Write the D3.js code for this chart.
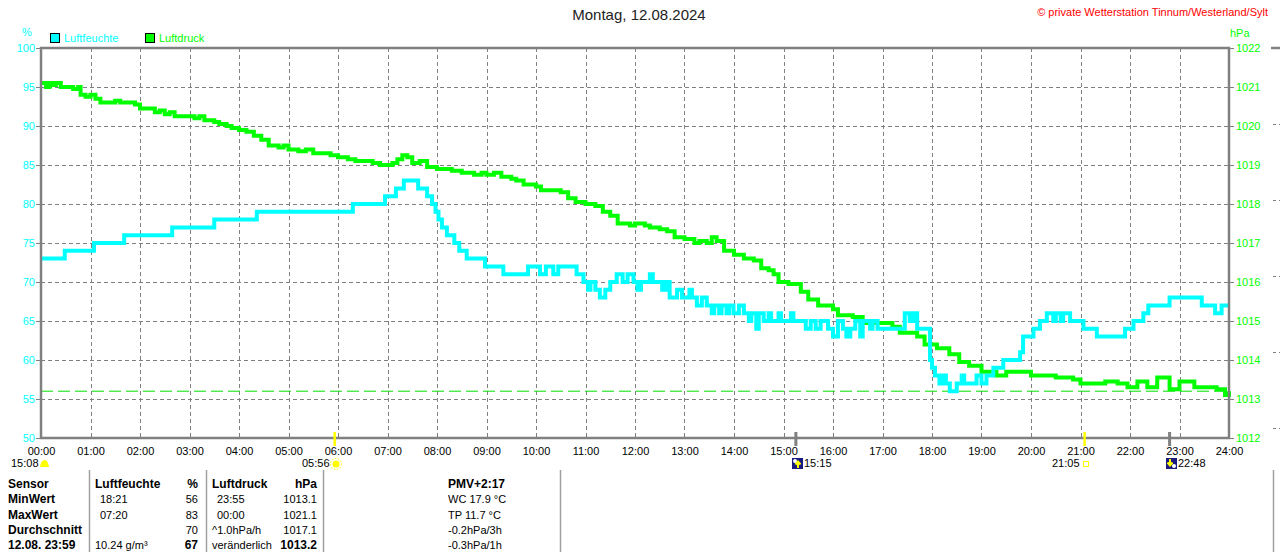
<!DOCTYPE html>
<meta charset="utf-8">
<script src="https://d3js.org/d3.v7.min.js"></script>
<style>
  body { margin: 0; background: #fff; }
  svg text { font-family: 'Liberation Sans', Arial, sans-serif; }
</style>
<body>
<div id="chart"></div>
<script>

// humidity (%) - stepped readings, hours of day
var humHours = [0, 0.48, 1.07, 1.68, 2.65, 3.5, 4.36, 6.3, 6.95, 7.17, 7.33, 7.62, 7.8, 7.9, 7.97, 8.03, 8.1, 8.2, 8.35, 8.45,
  8.6, 8.97, 9.34, 9.84, 10.08, 10.2, 10.35, 10.45, 10.82, 10.96, 11.05, 11.1, 11.2, 11.29, 11.4, 11.5, 11.63, 11.75, 11.85, 11.97,
  12.05, 12.12, 12.3, 12.36, 12.55, 12.62, 12.7, 12.85, 12.95, 13.1, 13.15, 13.25, 13.35, 13.45, 13.55, 13.6, 13.7, 13.75, 13.85, 13.9,
  13.99, 14.1, 14.2, 14.3, 14.35, 14.45, 14.5, 14.6, 14.7, 14.75, 14.9, 14.95, 15.15, 15.2, 15.45, 15.55, 15.65, 15.75, 15.9, 16.0,
  16.1, 16.2, 16.27, 16.35, 16.45, 16.55, 16.6, 16.75, 16.8, 16.9, 17.0, 17.45, 17.55, 17.62, 17.7, 17.96, 18.0, 18.06, 18.15, 18.2,
  18.28, 18.36, 18.5, 18.6, 18.65, 18.9, 19.0, 19.1, 19.24, 19.44, 19.78, 19.84, 20.05, 20.18, 20.32, 20.45, 20.5, 20.6, 20.65, 20.79,
  21.06, 21.33, 21.9, 22.07, 22.27, 22.37, 22.8, 23.45, 23.72, 23.85, 24.0];
var humValues = [73, 74, 75, 76, 77, 78, 79, 80, 81, 82, 83, 82, 81, 80, 79, 78, 77, 76, 75, 74,
  73, 72, 71, 72, 71, 72, 71, 72, 71, 70, 69, 70, 69, 68, 69, 70, 71, 70, 71, 70,
  69, 70, 71, 70, 69, 70, 68, 69, 68, 69, 68, 67, 68, 67, 66, 67, 66, 67, 66, 67,
  66, 67, 66, 65, 66, 64, 66, 65, 66, 65, 66, 65, 66, 65, 64, 65, 64, 65, 64, 63,
  65, 64, 63, 64, 65, 63, 65, 64, 65, 64, 64, 66, 65, 66, 64, 60, 59, 58, 57, 58,
  57, 56, 57, 58, 57, 58, 57, 58, 59, 60, 61, 63, 64, 65, 66, 65, 66, 65, 66, 65,
  64, 63, 64, 65, 66, 67, 68, 67, 66, 67, 67];

// air pressure (hPa)
var pressHours = [0, 0.1, 0.17, 0.25, 0.3, 0.4, 0.55, 0.65, 0.75, 0.8, 0.9, 1.0, 1.1, 1.2, 1.35, 1.5, 1.6, 1.8, 1.9, 2.0,
  2.25, 2.3, 2.4, 2.5, 2.6, 2.7, 3.0, 3.1, 3.2, 3.3, 3.5, 3.6, 3.75, 3.85, 4.0, 4.15, 4.3, 4.45, 4.6, 4.8,
  4.9, 5.0, 5.2, 5.35, 5.5, 5.7, 5.85, 6.0, 6.2, 6.35, 6.5, 6.7, 6.85, 7.1, 7.2, 7.3, 7.4, 7.5, 7.65, 7.8,
  8.0, 8.3, 8.5, 8.75, 8.9, 9.0, 9.15, 9.3, 9.5, 9.6, 9.75, 10.0, 10.1, 10.3, 10.5, 10.65, 10.8, 11.0, 11.2, 11.35,
  11.5, 11.65, 11.9, 12.0, 12.2, 12.3, 12.5, 12.65, 12.8, 13.0, 13.2, 13.3, 13.45, 13.55, 13.65, 13.8, 14.0, 14.2, 14.4, 14.55,
  14.7, 14.8, 14.9, 15.1, 15.2, 15.35, 15.5, 15.7, 16.0, 16.1, 16.4, 16.6, 16.9, 17.2, 17.35, 17.7, 17.85, 18.1, 18.35, 18.55,
  18.75, 19.0, 19.3, 19.5, 19.85, 20.0, 20.5, 20.85, 21.0, 21.2, 21.5, 21.75, 21.95, 22.15, 22.35, 22.55, 22.8, 23.0, 23.3, 23.55,
  23.75, 23.92, 24.0];
var pressValues = [1021.1, 1021.0, 1021.1, 1021.05, 1021.1, 1021.0, 1021.0, 1020.95, 1021.0, 1020.8, 1020.75, 1020.8, 1020.7, 1020.6, 1020.6, 1020.65, 1020.6, 1020.6, 1020.55, 1020.45,
  1020.45, 1020.35, 1020.4, 1020.3, 1020.35, 1020.25, 1020.25, 1020.2, 1020.25, 1020.15, 1020.1, 1020.05, 1020.0, 1019.95, 1019.9, 1019.85, 1019.75, 1019.65, 1019.5, 1019.45,
  1019.5, 1019.4, 1019.35, 1019.4, 1019.3, 1019.3, 1019.25, 1019.2, 1019.15, 1019.1, 1019.1, 1019.05, 1019.0, 1019.05, 1019.15, 1019.25, 1019.2, 1019.05, 1019.1, 1018.95,
  1018.9, 1018.85, 1018.8, 1018.75, 1018.8, 1018.75, 1018.8, 1018.7, 1018.65, 1018.6, 1018.5, 1018.45, 1018.35, 1018.35, 1018.3, 1018.15, 1018.05, 1018.0, 1017.95, 1017.8,
  1017.7, 1017.5, 1017.45, 1017.5, 1017.45, 1017.4, 1017.35, 1017.3, 1017.15, 1017.1, 1017.0, 1017.05, 1017.0, 1017.15, 1017.05, 1016.8, 1016.7, 1016.6, 1016.55, 1016.35,
  1016.3, 1016.2, 1016.0, 1015.95, 1015.95, 1015.75, 1015.55, 1015.4, 1015.3, 1015.15, 1015.1, 1014.95, 1014.95, 1014.85, 1014.7, 1014.6, 1014.4, 1014.3, 1014.15, 1013.95,
  1013.85, 1013.7, 1013.6, 1013.7, 1013.7, 1013.6, 1013.55, 1013.5, 1013.4, 1013.4, 1013.45, 1013.4, 1013.3, 1013.45, 1013.3, 1013.55, 1013.25, 1013.45, 1013.3, 1013.3,
  1013.25, 1013.1, 1013.2];

var humTicks = [50, 55, 60, 65, 70, 75, 80, 85, 90, 95, 100];
var pressTicks = [1012, 1013, 1014, 1015, 1016, 1017, 1018, 1019, 1020, 1021, 1022];
var hourTicks = d3.range(0, 25);
var currentPress = 1013.2;

// sun / moon events under the axis
var eventLabels = ["15:08", "05:56", "15:15", "21:05", "22:48"];
var markerHours = [5 + 56 / 60, 15 + 15 / 60, 21 + 5 / 60, 22 + 48 / 60];
var markerColors = ["#ffff00", "#808080", "#ffff00", "#808080"];

// table
var tableRows = [
  ["Sensor", "Luftfeuchte", "%", "Luftdruck", "hPa", "PMV+2:17"],
  ["MinWert", "  18:21", "56", "  23:55", "1013.1", "WC 17.9 °C"],
  ["MaxWert", "  07:20", "83", "  00:00", "1021.1", "TP 11.7 °C"],
  ["Durchschnitt", "", "70", "^1.0hPa/h", "1017.1", "-0.2hPa/3h"],
  ["12.08. 23:59", "10.24 g/m³", "67", "veränderlich", "1013.2", "-0.3hPa/1h"]
];

var W = 1280, H = 552;
var svg = d3.select("#chart").append("svg").attr("width", W).attr("height", H);

var x = d3.scaleLinear().domain([0, 24]).range([41, 1229]);
var yH = d3.scaleLinear().domain([50, 100]).range([438, 48]);
var yP = d3.scaleLinear().domain([1012, 1022]).range([438, 48]);

// title + copyright
svg.append("text").attr("x", 639).attr("y", 20).attr("text-anchor", "middle")
  .style("font-size", "15px").style("fill", "#222").text("Montag, 12.08.2024");
svg.append("text").attr("x", 1268).attr("y", 16).attr("text-anchor", "end")
  .style("font-size", "11px").style("fill", "#ff0000").text("© private Wetterstation Tinnum/Westerland/Sylt");

// units + legend
svg.append("text").attr("x", 22).attr("y", 36).style("font-size", "11px").style("fill", "#00ffff").text("%");
svg.append("text").attr("x", 1230).attr("y", 37).style("font-size", "11px").style("fill", "#00ff00").text("hPa");
svg.append("rect").attr("x", 50.5).attr("y", 33.5).attr("width", 9).attr("height", 9).style("fill", "#00ffff").style("stroke", "#000");
svg.append("text").attr("x", 64).attr("y", 42).style("font-size", "11px").style("fill", "#00ffff").text("Luftfeuchte");
svg.append("rect").attr("x", 145.5).attr("y", 33.5).attr("width", 9).attr("height", 9).style("fill", "#00ff00").style("stroke", "#000");
svg.append("text").attr("x", 159).attr("y", 42).style("font-size", "11px").style("fill", "#00ff00").text("Luftdruck");

// grid
var grid = svg.append("g").attr("class", "grid");
grid.selectAll("line.v").data(hourTicks.slice(1, 24)).enter().append("line")
  .attr("x1", d => Math.round(x(d)) + 0.5).attr("x2", d => Math.round(x(d)) + 0.5)
  .attr("y1", 48).attr("y2", 438);
grid.selectAll("line.h").data(humTicks.slice(1, 10)).enter().append("line")
  .attr("x1", 41).attr("x2", 1229)
  .attr("y1", d => Math.round(yH(d)) + 0.5).attr("y2", d => Math.round(yH(d)) + 0.5);
grid.selectAll("line").style("stroke", "#808080").style("stroke-dasharray", "4,3").style("stroke-width", 1);

// current pressure reference
svg.append("line").attr("x1", 41).attr("x2", 1229)
  .attr("y1", yP(currentPress)).attr("y2", yP(currentPress))
  .style("stroke", "#00e000").style("stroke-width", 1).style("stroke-dasharray", "12,5");

// axes
var xAxis = svg.append("g").attr("transform", "translate(0,438)")
  .call(d3.axisBottom(x).tickValues(hourTicks).tickSize(0).tickPadding(9)
    .tickFormat(d => (d < 10 ? "0" : "") + d + ":00"));
xAxis.select(".domain").remove();
xAxis.selectAll("text").style("font-size", "11px").style("fill", "#000").style("font-family", "'Liberation Sans', Arial, sans-serif");

var yAxisL = svg.append("g").attr("transform", "translate(41,0)")
  .call(d3.axisLeft(yH).tickValues(humTicks).tickSize(5).tickPadding(1).tickFormat(d3.format("d")));
yAxisL.select(".domain").remove();
yAxisL.selectAll("line").style("stroke", "#808080");
yAxisL.selectAll("text").style("font-size", "11px").style("fill", "#00ffff").style("font-family", "'Liberation Sans', Arial, sans-serif");

var yAxisR = svg.append("g").attr("transform", "translate(1229,0)")
  .call(d3.axisRight(yP).tickValues(pressTicks).tickSize(5).tickPadding(2).tickFormat(d3.format("d")));
yAxisR.select(".domain").remove();
yAxisR.selectAll("line").style("stroke", "#808080");
yAxisR.selectAll("text").style("font-size", "11px").style("fill", "#00ff00").style("font-family", "'Liberation Sans', Arial, sans-serif");

// lines
var pressData = pressHours.map((h, i) => ({ h: h, v: pressValues[i] }));
var humData = humHours.map((h, i) => ({ h: h, v: humValues[i] }));

svg.append("path").datum(pressData)
  .attr("d", d3.line().curve(d3.curveStepAfter).x(d => x(d.h)).y(d => yP(d.v)))
  .style("fill", "none").style("stroke", "#00ff00").style("stroke-width", 4);

svg.append("path").datum(humData)
  .attr("d", d3.line().curve(d3.curveStepAfter).x(d => x(d.h)).y(d => yH(d.v)))
  .style("fill", "none").style("stroke", "#00ffff").style("stroke-width", 4);

// frame
svg.append("path").attr("d", "M41,48V438H1229V48H41Z")
  .style("fill", "none").style("stroke", "#808080").style("stroke-width", 2.5);

// neighbouring panel edge
svg.append("line").attr("x1", 1271).attr("x2", 1280).attr("y1", 48).attr("y2", 48)
  .style("stroke", "#808080").style("stroke-width", 2.5);
svg.selectAll("line.edge").data([124, 200, 276, 352, 428]).enter().append("line")
  .attr("x1", 1273).attr("x2", 1280).attr("y1", d => d + 0.5).attr("y2", d => d + 0.5)
  .style("stroke", "#808080").style("stroke-dasharray", "3,3");

// sun / moon markers on axis
svg.selectAll("line.mark").data(markerHours).enter().append("line")
  .attr("x1", d => x(d)).attr("x2", d => x(d)).attr("y1", 432).attr("y2", 446)
  .style("stroke", (d, i) => markerColors[i]).style("stroke-width", (d, i) => i % 2 ? 3 : 2.5);

var ev = svg.append("g").style("font-size", "11px");
ev.append("text").attr("x", 11).attr("y", 467).text(eventLabels[0]);
ev.append("path").attr("d", "M40,467 Q41,460 44.5,460 Q48,460 49,467 Z").style("fill", "#ffff00");

ev.append("text").attr("x", 302).attr("y", 467).text(eventLabels[1]);
ev.append("circle").attr("cx", 336).attr("cy", 464).attr("r", 3.5).style("fill", "#ffff00");
ev.append("circle").attr("cx", 336).attr("cy", 464).attr("r", 5.5).style("fill", "none")
  .style("stroke", "#ffff00").style("stroke-width", 1).style("stroke-dasharray", "1.5,1.5");

ev.append("rect").attr("x", 792).attr("y", 458).attr("width", 11).attr("height", 11).style("fill", "#1a1a80");
ev.append("circle").attr("cx", 795).attr("cy", 461).attr("r", 2).style("fill", "#fff");
ev.append("path").attr("d", "M798,468V462M795.5,464.5L798,461.5L800.5,464.5").style("stroke", "#ffff00").style("stroke-width", 2).style("fill", "none");
ev.append("text").attr("x", 804).attr("y", 467).text(eventLabels[2]);

ev.append("text").attr("x", 1052).attr("y", 467).text(eventLabels[3]);
ev.append("rect").attr("x", 1083.5).attr("y", 461.5).attr("width", 5).attr("height", 5).style("fill", "none").style("stroke", "#ffff00");

ev.append("rect").attr("x", 1166).attr("y", 458).attr("width", 11).attr("height", 11).style("fill", "#1a1a80");
ev.append("circle").attr("cx", 1174).attr("cy", 466).attr("r", 2).style("fill", "#fff");
ev.append("path").attr("d", "M1170,459V465M1167.5,462.5L1170,465.5L1172.5,462.5").style("stroke", "#ffff00").style("stroke-width", 2).style("fill", "none");
ev.append("text").attr("x", 1178).attr("y", 467).text(eventLabels[4]);

// table separators
svg.selectAll("line.sep").data([89, 206, 323, 560, 1273]).enter().append("line")
  .attr("x1", d => d + 0.5).attr("x2", d => d + 0.5).attr("y1", 470).attr("y2", 552)
  .style("stroke", "#a0a0a0").style("stroke-width", 1.5);

// table text
var colX = [8, 95, 198, 212, 317, 448];
var colAnchor = ["start", "start", "end", "start", "end", "start"];
var tbl = svg.append("g").style("font-size", "11px").style("fill", "#000");
tableRows.forEach(function(row, r) {
  row.forEach(function(cell, c) {
    var bold = r === 0 || c === 0 || (r === 4 && (c === 2 || c === 4));
    tbl.append("text")
      .attr("x", colX[c] + (r > 0 && (c === 1 || c === 3) && cell.startsWith("  ") ? 5 : 0))
      .attr("y", 488 + r * 15.3)
      .attr("text-anchor", colAnchor[c])
      .style("font-weight", bold ? "bold" : "normal")
      .style("font-size", bold ? "12px" : "11px")
      .text(cell.trim());
  });
});

</script>
</body>
